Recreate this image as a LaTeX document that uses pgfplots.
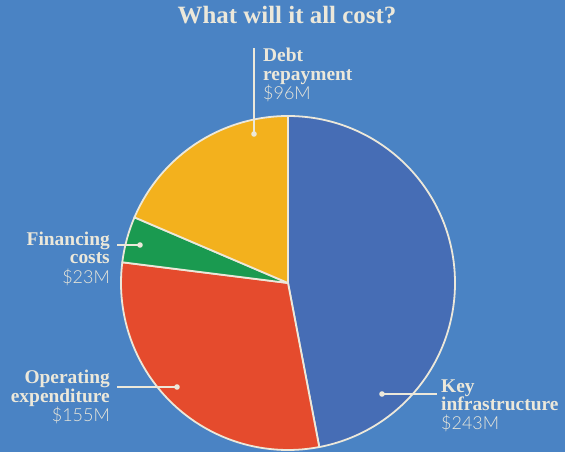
\documentclass[border=0pt]{standalone}
\usepackage{pgfplots}
\pgfplotsset{compat=1.18}
\usepackage{pgfplotstable}
\usepackage{fontspec}
\newfontfamily\namefont{Liberation Serif}
\newfontfamily\valfont{Lato Light}
\definecolor{bg}{HTML}{4A83C4}
\definecolor{cream}{HTML}{ECE8DA}
\definecolor{keyblue}{HTML}{466DB5}
\definecolor{opred}{HTML}{E54B2D}
\definecolor{fingreen}{HTML}{1A9A50}
\definecolor{debtyellow}{HTML}{F3B11D}

\pgfplotstableread{
label value
Key 243
Operating 155
Financing 23
Debt 96
}\costdata

\begin{document}
\begin{tikzpicture}
\pgfplotstablegetelem{0}{value}\of\costdata \let\va\pgfplotsretval
\pgfplotstablegetelem{1}{value}\of\costdata \let\vb\pgfplotsretval
\pgfplotstablegetelem{2}{value}\of\costdata \let\vc\pgfplotsretval
\pgfplotstablegetelem{3}{value}\of\costdata \let\vd\pgfplotsretval
\pgfmathsetmacro\total{\va+\vb+\vc+\vd}
\pgfmathsetmacro\aA{90-\va/\total*360}
\pgfmathsetmacro\aB{\aA-\vb/\total*360}
\pgfmathsetmacro\aC{\aB-\vc/\total*360}
\fill[bg] (0,0) rectangle (565bp,452bp);
\begin{axis}[
  at={(0,0)}, anchor=south west,
  width=565bp, height=452bp, scale only axis,
  xmin=0, xmax=565, ymin=0, ymax=452,
  hide axis, clip=false, enlargelimits=false]
\def\cx{288}\def\cy{169}
\tikzset{slice/.style={draw=cream, line width=1.8pt, line join=round}}
\filldraw[slice, fill=keyblue] (axis cs:\cx,\cy) -- ++(90:167bp) arc[start angle=90, end angle=\aA, radius=167bp] -- cycle;
\filldraw[slice, fill=opred] (axis cs:\cx,\cy) -- ++(\aA:167bp) arc[start angle=\aA, end angle=\aB, radius=167bp] -- cycle;
\filldraw[slice, fill=fingreen] (axis cs:\cx,\cy) -- ++(\aB:167bp) arc[start angle=\aB, end angle=\aC, radius=167bp] -- cycle;
\filldraw[slice, fill=debtyellow] (axis cs:\cx,\cy) -- ++(\aC:167bp) arc[start angle=\aC, end angle=-270, radius=167bp] -- cycle;
% leaders
\tikzset{lead/.style={cream, line width=1.1pt}}
\draw[lead] (axis cs:254,404) -- (axis cs:254,318);
\fill[cream] (axis cs:254,318) circle[radius=2.8bp];
\draw[lead] (axis cs:117,207) -- (axis cs:140,207);
\fill[cream] (axis cs:140,207) circle[radius=2.8bp];
\draw[lead] (axis cs:117,65) -- (axis cs:177,65);
\fill[cream] (axis cs:177,65) circle[radius=2.8bp];
\draw[lead] (axis cs:382,58) -- (axis cs:437,58);
\fill[cream] (axis cs:382,58) circle[radius=2.8bp];
% texts
\tikzset{nm/.style={text=cream, inner sep=0pt, font=\namefont\bfseries\fontsize{19.5}{20}\selectfont},
         vl/.style={text=cream, inner sep=0pt, font=\valfont\fontsize{18}{18}\selectfont}}
\node[nm, anchor=base, font=\namefont\bfseries\fontsize{25}{26}\selectfont] at (axis cs:287,428) {What will it all cost?};
% Debt
\node[nm, anchor=base west] at (axis cs:263,390) {Debt};
\node[nm, anchor=base west] at (axis cs:263,371) {repayment};
\node[vl, anchor=base west] at (axis cs:263,352) {\$96M};
% Financing
\node[nm, anchor=base east] at (axis cs:110,207) {Financing};
\node[nm, anchor=base east] at (axis cs:110,189) {costs};
\node[vl, anchor=base east] at (axis cs:110,169) {\$23M};
% Operating
\node[nm, anchor=base east] at (axis cs:110,69) {Operating};
\node[nm, anchor=base east] at (axis cs:110,50) {expenditure};
\node[vl, anchor=base east] at (axis cs:110,31) {\$155M};
% Key
\node[nm, anchor=base west] at (axis cs:441,60) {Key};
\node[nm, anchor=base west] at (axis cs:441,42) {infrastructure};
\node[vl, anchor=base west] at (axis cs:441,23) {\$243M};
\end{axis}
\end{tikzpicture}
\end{document}
